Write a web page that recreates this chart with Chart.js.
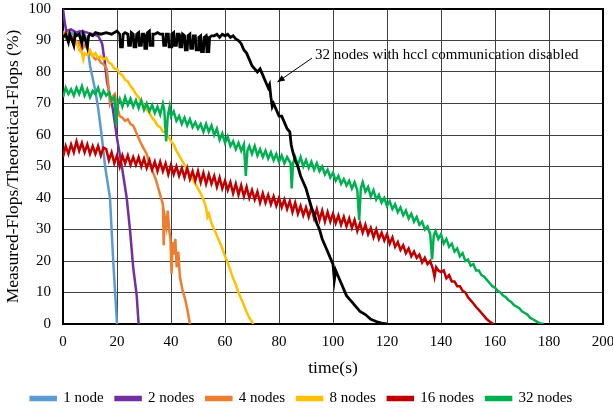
<!DOCTYPE html>
<html>
<head>
<meta charset="utf-8">
<script src="https://cdn.jsdelivr.net/npm/chart.js@4.4.0/dist/chart.umd.min.js"></script>
<style>
  body { margin: 0; background: #fff; }
  #wrap { width: 613px; height: 416px; }
</style>
</head>
<body>
<div id="wrap"><canvas id="flopsChart" width="613" height="416"></canvas></div>
<script>
// tick labels
const xTicks = [0, 20, 40, 60, 80, 100, 120, 140, 160, 180, 200];
const yTicks = [0, 10, 20, 30, 40, 50, 60, 70, 80, 90, 100];

// series: [time(s), percent]
const node1 = [[0,92],[2,93],[4,92],[6,93],[7,92],[8,92],[8.8,90],[10,82],[11,78],[12,74],[13.1,68],[14.3,60],[15.6,50],[16.5,45],[17.4,40],[18,30],[18.6,20],[19.3,10],[20,0]];

const node2 = [[0,100],[0.6,96],[1.2,93],[3,93.5],[5,92.5],[7,93],[9,92.5],[11,92],[13,91.5],[14.5,89],[15.5,83],[16.3,77],[17.5,72],[18.5,68],[20,59],[21,54],[21.8,50],[23.6,40],[24.8,30],[26,18],[27.3,9],[28,0]];

const node4 = [[0,93],[1,91],[2,92.5],[3,91],[4,91.5],[5,89],[6,89.5],[7,87],[8,88.5],[9,87.5],[10,86],[11,85],[12,84],[13,84.5],[14,83],[15,82.5],[16.2,81],[16.8,76],[17.4,70],[18.2,72],[19.2,73],[20,69],[21,66],[22,65.5],[23,64.5],[24,65],[25,63.5],[26,63],[27,61],[28.5,58],[30,55.5],[31,54],[32,51],[33.4,48],[34.5,45.5],[36,41],[37,38],[37.3,25],[37.7,34],[38.3,31],[38.8,36],[39.3,30],[39.8,27],[40.2,16],[40.6,26],[41.1,22],[41.6,27],[42.1,18],[42.7,23],[43.3,15],[44.2,11],[45.2,8],[46.2,4],[47,0]];

const node8 = [[0,91],[1,92],[2,90],[3,91],[4,89],[5,89.5],[6,87],[7,86],[7.5,84],[8,86],[9,85.5],[10,87],[11,85],[12,86],[13,84.5],[14,85],[15,84],[16,84.5],[17,83],[18,82.5],[19,81],[20,81],[21,79.5],[22,79],[23,77.5],[24,77],[25,75.5],[26,74.5],[27,73],[28,72],[29,70.5],[30,69.5],[31,68],[32,67],[33,65.5],[34,64.5],[35,63],[36,62.5],[37,61],[38,61],[39,59.5],[40,58],[41,57],[42,55],[43,53.5],[44,52],[45,50.5],[46,49],[47,47.5],[48,46],[49,44.5],[50,43],[51,41.5],[52,39.5],[53,37],[53.5,34],[54,35],[55,32],[56,30],[57,28],[58,26],[59,24],[60,21.5],[61,19.5],[62,17],[63,14.5],[64,12.5],[65,10],[66,8],[67,6],[68,3.8],[69,2],[70,0.7],[70.5,0]];

const node16 = [[0,53],[1,56.5],[2,54],[3,57],[4,54.5],[5,58],[6,55],[7,57.5],[8,54.5],[9,57],[10,54],[11,56.5],[12,54],[13,56.5],[14,53.5],[15,56],[16,55.5],[17,52],[18,54.5],[19,51],[20,53.5],[21,50],[22,53.5],[23,51],[24,53.5],[25,50.5],[26,53],[27,50.5],[28,53],[29,50],[30,52.5],[31,49.5],[32,52],[33,49],[34,51.5],[35,48.5],[36,51.5],[37,48.5],[38,51],[39,47.5],[40,50.5],[41,47.5],[42,50],[43,47],[44,49.5],[45,46.5],[46,49.5],[47,46],[48,48.5],[49,45.5],[50,48.5],[51,45],[52,48],[53,44.5],[54,47.5],[55,44.5],[56,47],[57,43.5],[58,46.5],[59,43],[60,45.5],[61,42.5],[62,45],[63,41.5],[64,44.5],[65,41],[66,44],[67,40.5],[68,43.5],[69,40],[70,42.5],[71,39.5],[72,42],[73,38.5],[74,41.5],[75,38.5],[76,41],[77,38],[78,40.5],[79,37.5],[80,40],[81,37],[82,39.5],[83,36.5],[84,39],[85,35.5],[86,38.5],[87,35],[88,37.5],[89,34.5],[90,37],[91,34],[92,37],[93,33.5],[94,36.5],[95,33],[96,36],[97,32.5],[98,35.5],[99,32.5],[100,35],[101,32],[102,34.5],[103,31.5],[104,34],[105,31],[106,33.5],[107,30.5],[108,33],[109,29.5],[110,32],[111,29],[112,31.5],[113,28.5],[114,30.5],[115,27.5],[116,30],[117,27],[118,29],[119,26.5],[120,28.5],[121,25.5],[122,27.5],[123,24.5],[124,26],[125,23.5],[126,25],[127,22.5],[128,24],[129,21.5],[130,23],[131,21],[132,22],[133,19.5],[134,21],[135,19],[136,20],[137,17.5],[137.6,15],[138.2,18],[139,17],[140,16.5],[141,17],[142,14.5],[143,15.5],[144,13.5],[145,13.5],[146,12],[147,12],[148,10.5],[149,10],[150,8.5],[151,7.5],[152,6.5],[153,5.4],[154,4.5],[155,3.5],[156,2.5],[157,1.5],[158,0.8],[159,0.2],[159.5,0]];

const node32 = [[0,72],[1,75],[2,73],[3,74.5],[4,72.5],[5,75],[6,73],[7,75.5],[8,72.5],[9,74.5],[10,72],[11,74],[12,73],[13,75],[14,72],[15,74],[16,72.5],[17,73.5],[18,71],[19,72],[19.7,63],[20.3,70],[21,71.5],[22,69],[23,72],[24,69.5],[25,71.5],[26,69],[27,71],[28,68.5],[29,71],[30,68],[31,70],[32,67.5],[33,69.5],[34,67],[35,69],[36,66.5],[37,70],[37.5,68],[38.2,58],[38.8,66],[39.5,69],[40,66],[41,67.5],[42,64.5],[43,66],[44,63.5],[45,65.5],[46,63],[47,65],[48,62.5],[49,64],[50,62],[51,63.5],[52,61],[53,63.5],[54,61],[55,63],[56,60],[57,62],[58,58.5],[59,60.5],[60,57.5],[61,59.5],[62,56.5],[63,58],[64,55.5],[65,57.5],[66,55],[67,57],[67.7,47],[68.3,55],[69,56.5],[70,54],[71,56.5],[72,53.5],[73,55.5],[74,53],[75,55],[76,52.5],[77,54.5],[78,52],[79,54],[80,51.5],[81,53.5],[82,51],[83,53],[84.3,51],[84.7,43],[85.2,51],[86,53],[87,50.5],[88,53],[89,50],[90,52],[91,49.5],[92,51.5],[93,49],[94,51],[95,48.5],[96,50],[97,47.5],[98,49],[99,46.5],[100,48],[101,45.5],[102,47],[103,44.5],[104,46],[105,44],[106,45.5],[107,43],[108,45],[109,42.5],[109.7,33],[110.3,43],[111,45],[112,42],[113,43.5],[114,40.5],[115,42.5],[116,39.5],[117,41],[118,38.5],[119,40],[120,37.5],[121,39],[122,36.5],[123,38],[124,35.5],[125,37],[126,34.5],[127,36],[128,33.5],[129,35],[130,32.5],[131,34],[132,31.5],[133,32.5],[134,30],[135,31],[136,28.5],[136.7,20.5],[137.3,28],[138,29.5],[139,27],[140,28.5],[141,25.5],[142,27],[143,24.5],[144,25.5],[145,23],[146,24],[147,21.5],[148,22.5],[149,20],[150,20.5],[151,18.5],[152,19],[153,17],[154,17],[155,15.5],[156,15],[157,14],[158,13],[159,12],[160,11.5],[161,10.5],[162,10],[163,9],[164,8.5],[165,7.5],[166,7],[167,6],[168,5.5],[169,5],[170,4],[171,3.5],[172,3],[173,2],[174,1.5],[175,1],[176,0.5],[177,0.2],[178,0]];

// 32 nodes, hccl communication disabled (not in legend)
const node32NoHccl = [[0,91],[1,92],[2,89.5],[2.5,92],[3,91],[4,88.5],[4.5,92],[5,91.5],[6,92],[7,89],[7.5,92],[8,91],[9,88],[9.5,91.5],[10,92],[11,91.5],[12,92.5],[14,92],[16,92.5],[18,92],[20,93],[21,92],[21.3,88],[22,88],[22.3,92],[23,92.5],[24,92],[24.3,88.5],[25,88.5],[25.3,92.5],[26,92],[26.3,88],[27,88],[27.3,92],[28,92.5],[28.3,88.5],[29,88.5],[29.3,92],[30,92],[30.3,87.5],[31,87.5],[31.3,92.5],[32,93],[32.3,88.5],[33,88.5],[33.3,92],[34,92],[35,92.5],[36,92],[37,92],[37.3,88.5],[38,88.5],[38.3,92],[39,92],[39.3,88],[40,88],[40.3,92],[41,92.5],[41.3,88.5],[42,88.5],[42.3,92],[43,92],[43.3,88],[44,88],[44.3,92],[45,91.5],[45.3,87],[46,87],[46.3,91.5],[47,92],[47.3,87.5],[48,87.5],[48.3,91.5],[49,91.5],[49.3,87],[50,87],[50.3,91],[51,91.5],[51.3,86.5],[52,86.5],[52.3,91],[53,91.5],[53.3,86.5],[54,86.5],[54.3,91],[55,91.5],[56,91.5],[57,92],[58,91],[59,92],[60,91.5],[61,92],[62,91],[63,91.5],[64,90.5],[65,90],[66,89],[67,87],[68,86],[69,84],[70,82],[71,81],[72,80],[73,81],[74,79],[75,77],[76,75],[76.5,76],[77,72],[77.5,69],[78,70],[79,68],[80,66],[81,66],[82,64],[83,62],[84,61],[84.5,57],[85,55],[86,52],[87,50],[88,47],[89,45],[90,43],[91,40],[92,37],[93,35],[94,32],[95,30],[96,27],[97,25],[98,23],[99,21],[100,19],[100.5,14],[101,17],[102,15],[103,13],[104,11],[105,9],[106,8],[107,7],[108,6],[110,4],[112,3],[114,1.5],[116,0.8],[118,0.3],[120,0]];

const seriesNames = ['1 node', '2 nodes', '4 nodes', '8 nodes', '16 nodes', '32 nodes'];
const seriesData = [node1, node2, node4, node8, node16, node32];
const seriesColors = ['#5B9BD5', '#7030A0', '#ED7D31', '#FFC000', '#C00000', '#00B050'];

const noteText = '32 nodes with hccl communication disabled';

const serif = "'Liberation Serif', 'Times New Roman', serif";
Chart.defaults.color = '#000';
Chart.defaults.font.family = serif;

function toPoints(pairs) {
    return pairs.map(p => ({ x: p[0], y: p[1] }));
}

const datasets = seriesNames.map((name, i) => ({
    label: name,
    data: toPoints(seriesData[i]),
    borderColor: seriesColors[i],
    backgroundColor: seriesColors[i],
    borderWidth: 2.5,
    pointRadius: 0,
    order: 6 - i
}));
datasets.push({
    label: 'hccl off',
    data: toPoints(node32NoHccl),
    borderColor: '#000',
    backgroundColor: '#000',
    borderWidth: 2.8,
    pointRadius: 0,
    order: 0
});

// top/right frame of the plot, plus arrow + label for the black curve (data space)
const framePlugin = {
    id: 'frame',
    beforeDatasetsDraw(chart) {
        const { ctx, chartArea: a } = chart;
        ctx.save();
        ctx.strokeStyle = '#000';
        ctx.lineWidth = 2;
        ctx.beginPath();
        ctx.moveTo(a.left, a.top);
        ctx.lineTo(a.right, a.top);
        ctx.lineTo(a.right, a.bottom);
        ctx.stroke();
        ctx.restore();
    },
    afterDatasetsDraw(chart) {
        const { ctx, scales: { x, y } } = chart;
        const x0 = x.getPixelForValue(92.2), y0 = y.getPixelForValue(84.4);
        const x1 = x.getPixelForValue(79.4), y1 = y.getPixelForValue(76.8);
        ctx.save();
        ctx.strokeStyle = '#000';
        ctx.fillStyle = '#000';
        ctx.lineWidth = 1;
        ctx.beginPath();
        ctx.moveTo(x0, y0);
        ctx.lineTo(x1, y1);
        ctx.stroke();
        const ang = Math.atan2(y1 - y0, x1 - x0);
        ctx.beginPath();
        ctx.moveTo(x1, y1);
        ctx.lineTo(x1 - 8 * Math.cos(ang - 0.4), y1 - 8 * Math.sin(ang - 0.4));
        ctx.lineTo(x1 - 8 * Math.cos(ang + 0.4), y1 - 8 * Math.sin(ang + 0.4));
        ctx.closePath();
        ctx.fill();
        ctx.font = '15px ' + serif;
        ctx.textAlign = 'left';
        ctx.textBaseline = 'middle';
        ctx.fillText(noteText, x.getPixelForValue(93.3), y.getPixelForValue(85.4));
        ctx.restore();
    }
};

new Chart(document.getElementById('flopsChart').getContext('2d'), {
    type: 'line',
    data: { datasets: datasets },
    options: {
        responsive: false,
        animation: false,
        layout: { padding: { left: 0, right: 10, top: 9, bottom: 0 } },
        plugins: {
            legend: {
                position: 'bottom',
                labels: {
                    boxWidth: 25,
                    boxHeight: 3,
                    padding: 12,
                    font: { size: 15, family: serif },
                    filter: item => item.text !== 'hccl off',
                    sort: (a, b) => a.datasetIndex - b.datasetIndex
                }
            },
            tooltip: { enabled: false }
        },
        scales: {
            x: {
                type: 'linear',
                min: xTicks[0],
                max: xTicks[xTicks.length - 1],
                afterBuildTicks: s => { s.ticks = xTicks.map(v => ({ value: v })); },
                afterFit: s => { s.height = 55; s.paddingLeft = 0; s.paddingRight = 0; },
                ticks: { padding: 9, font: { size: 15 }, maxRotation: 0 },
                grid: { color: '#404040', lineWidth: 1, drawTicks: false },
                border: { color: '#000', width: 2 },
                title: { display: true, text: 'time(s)', font: { size: 17.5 }, padding: 0 }
            },
            y: {
                min: yTicks[0],
                max: yTicks[yTicks.length - 1],
                afterBuildTicks: s => { s.ticks = yTicks.map(v => ({ value: v })); },
                afterFit: s => { s.width = 63; s.paddingTop = 0; s.paddingBottom = 0; },
                ticks: { padding: 12, font: { size: 15 } },
                grid: { color: '#404040', lineWidth: 1, drawTicks: false },
                border: { color: '#000', width: 2 },
                title: { display: true, text: 'Measured-Flops/Theoretical-Flops (%)', font: { size: 17.5 }, padding: { top: 3, bottom: 0 } }
            }
        }
    },
    plugins: [framePlugin]
});
</script>
</body>
</html>
